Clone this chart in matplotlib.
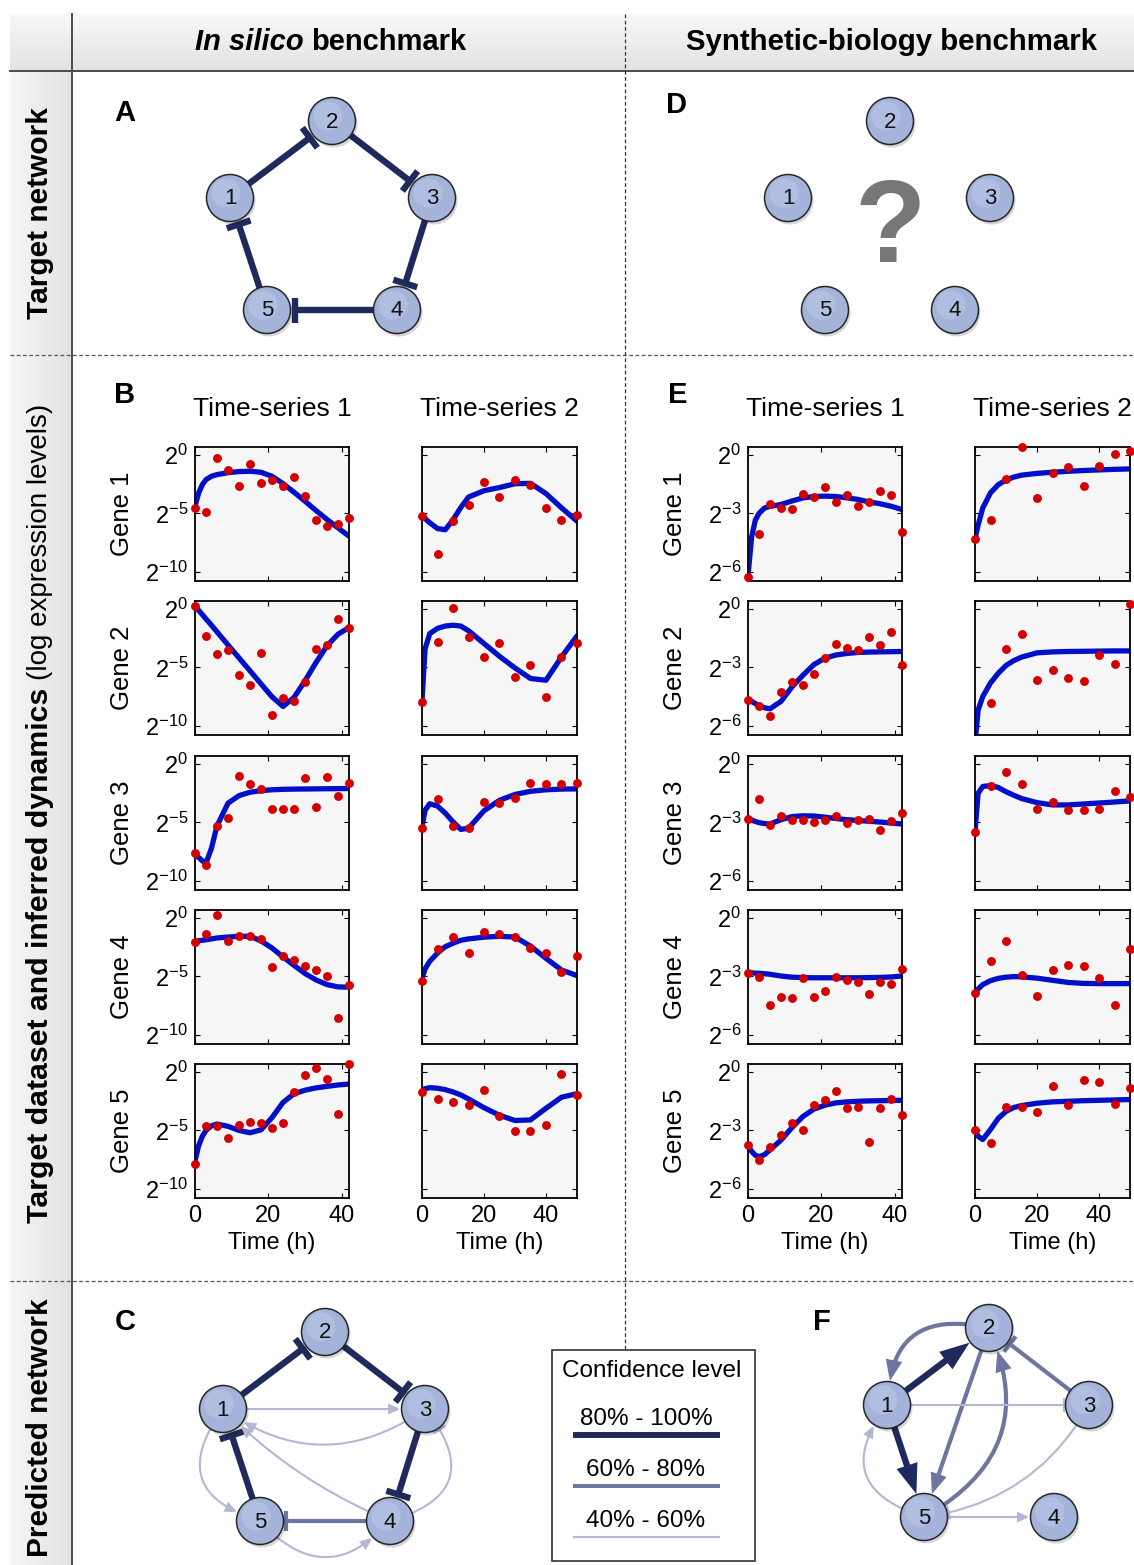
import numpy as np
import matplotlib
matplotlib.use("Agg")
import matplotlib.pyplot as plt
from matplotlib.patches import Circle, Rectangle, FancyArrowPatch, ArrowStyle

plt.rcParams['font.family'] = ['Liberation Sans', 'DejaVu Sans']
plt.rcParams['mathtext.fontset'] = 'custom'
plt.rcParams['mathtext.rm'] = 'Liberation Sans'
plt.rcParams['mathtext.it'] = 'Liberation Sans:italic'
plt.rcParams['mathtext.bf'] = 'Liberation Sans:bold'

W, H = 1134, 1565

# ---------------- data (log2 expression) ----------------
genes = ["Gene 1", "Gene 2", "Gene 3", "Gene 4", "Gene 5"]
t_obs_1 = [0, 3, 6, 9, 12, 15, 18, 21, 24, 27, 30, 33, 36, 39, 42]
t_obs_2 = [0, 5, 10, 15, 20, 25, 30, 35, 40, 45, 50]
t_fit_1 = [0, 1, 2, 3, 4.5, 6, 9, 12, 15, 18, 21, 24, 27, 30, 33, 36, 39, 42]
t_fit_2 = [0, 1, 2.5, 5, 7.5, 10, 12.5, 15, 20, 25, 30, 35, 40, 45, 50]

insilico_obs_1 = [
    [-4.52, -4.89, -0.24, -1.30, -2.67, -0.76, -2.38, -2.12, -2.64, -1.84, -3.52, -5.55, -6.04, -5.89, -5.38],
    [0.27, -2.30, -3.87, -3.52, -5.66, -6.52, -3.72, -9.09, -7.60, -7.92, -6.23, -3.38, -3.07, -0.87, -1.58],
    [-7.66, -8.64, -5.32, -4.64, -1.05, -1.73, -2.12, -3.81, -3.81, -3.81, -1.20, -3.69, -1.14, -2.71, -1.61],
    [-2.03, -1.32, 0.26, -1.94, -1.52, -1.52, -1.79, -4.22, -3.27, -3.63, -4.10, -4.43, -4.96, -8.58, -5.73],
    [-7.87, -4.61, -4.61, -5.61, -4.52, -4.28, -4.37, -4.75, -4.37, -1.70, -0.28, 0.34, -0.60, -3.63, 0.70],
]
insilico_fit_1 = [
    [-4.38, -3.24, -2.53, -2.10, -1.81, -1.67, -1.50, -1.41, -1.38, -1.47, -1.81, -2.44, -3.18, -3.95, -4.75, -5.52, -6.24, -6.95],
    [0.27, -0.10, -0.47, -0.84, -1.38, -1.95, -3.07, -4.18, -5.29, -6.41, -7.52, -8.35, -7.58, -6.15, -4.58, -3.15, -2.15, -1.58],
    [-7.75, -8.00, -8.30, -8.49, -7.20, -5.30, -3.35, -2.70, -2.41, -2.27, -2.20, -2.16, -2.14, -2.13, -2.12, -2.11, -2.10, -2.09],
    [-1.97, -1.94, -1.90, -1.86, -1.78, -1.70, -1.62, -1.56, -1.56, -1.95, -2.56, -3.33, -4.05, -4.75, -5.30, -5.70, -5.90, -5.92],
    [-7.63, -6.30, -5.50, -5.00, -4.60, -4.45, -4.65, -5.00, -5.20, -4.95, -3.90, -2.60, -1.85, -1.55, -1.35, -1.22, -1.10, -1.02],
]
insilico_obs_2 = [
    [-5.24, -8.46, -5.66, -4.27, -2.33, -3.61, -2.10, -2.53, -4.52, -5.55, -5.12],
    [-7.95, -2.81, 0.10, -2.35, -4.07, -2.92, -5.84, -4.81, -7.58, -4.07, -2.92],
    [-5.44, -2.95, -5.32, -5.52, -3.24, -3.30, -2.89, -1.61, -1.70, -1.67, -1.61],
    [-5.38, -2.65, -1.61, -2.95, -1.17, -1.37, -1.61, -2.59, -2.95, -4.66, -3.24],
    [-1.70, -2.29, -2.53, -2.80, -1.55, -3.78, -5.02, -5.02, -4.52, -0.16, -2.00],
]
insilico_fit_2 = [
    [-5.24, -5.45, -5.80, -6.30, -6.40, -5.55, -4.50, -3.60, -3.05, -2.78, -2.45, -2.42, -3.30, -4.52, -5.66],
    [-7.86, -3.40, -2.10, -1.65, -1.45, -1.38, -1.45, -1.85, -2.95, -4.05, -5.05, -5.95, -6.10, -4.10, -2.30],
    [-5.38, -3.95, -3.40, -3.60, -4.20, -4.95, -5.60, -5.50, -4.00, -3.10, -2.60, -2.33, -2.20, -2.14, -2.12],
    [-5.17, -4.35, -3.70, -3.00, -2.45, -2.15, -1.90, -1.78, -1.63, -1.56, -1.62, -2.40, -3.45, -4.45, -4.93],
    [-1.55, -1.42, -1.33, -1.38, -1.50, -1.70, -1.95, -2.30, -3.05, -3.70, -4.15, -4.10, -3.10, -2.15, -1.85],
]
synbio_obs_1 = [
    [-6.26, -4.05, -2.49, -2.71, -2.76, -2.01, -2.17, -1.63, -2.39, -2.06, -2.61, -2.42, -1.82, -2.05, -3.96],
    [-4.68, -5.01, -5.49, -4.29, -3.74, -3.91, -3.36, -2.54, -1.81, -1.98, -2.10, -1.41, -1.84, -1.16, -2.87],
    [-2.83, -1.80, -3.12, -2.66, -2.85, -2.89, -2.99, -2.89, -2.66, -3.01, -2.90, -2.83, -3.37, -2.94, -2.53],
    [-2.83, -3.01, -4.47, -4.08, -4.11, -3.10, -4.08, -3.76, -3.05, -3.19, -3.30, -3.88, -3.28, -3.40, -2.64],
    [-3.74, -4.54, -3.86, -3.24, -2.62, -2.98, -1.70, -1.41, -0.97, -1.82, -1.78, -3.60, -1.86, -1.38, -2.23],
]
synbio_fit_1 = [
    [-6.22, -4.20, -3.35, -3.00, -2.72, -2.64, -2.54, -2.36, -2.20, -2.13, -2.11, -2.13, -2.20, -2.28, -2.41, -2.50, -2.63, -2.80],
    [-4.63, -4.75, -4.86, -4.97, -5.08, -5.13, -4.75, -4.00, -3.40, -2.85, -2.52, -2.36, -2.28, -2.23, -2.21, -2.20, -2.19, -2.18],
    [-2.83, -2.88, -2.95, -3.01, -3.06, -3.08, -2.86, -2.70, -2.66, -2.67, -2.73, -2.80, -2.86, -2.90, -2.94, -2.98, -3.03, -3.08],
    [-2.82, -2.82, -2.83, -2.84, -2.86, -2.89, -2.98, -3.04, -3.06, -3.07, -3.07, -3.07, -3.07, -3.07, -3.06, -3.05, -3.03, -2.98],
    [-3.78, -4.08, -4.28, -4.35, -4.25, -4.00, -3.50, -2.85, -2.28, -1.90, -1.70, -1.58, -1.53, -1.50, -1.48, -1.47, -1.46, -1.45],
]
synbio_obs_2 = [
    [-4.31, -3.36, -1.21, 0.42, -2.20, -0.92, -0.61, -1.58, -0.56, 0.06, 0.20],
    [np.nan, -4.81, -2.03, -1.26, -3.64, -3.12, -3.55, -3.72, -2.34, -2.80, 0.28],
    [-3.49, -1.14, -0.40, -1.00, -2.30, -1.94, -2.35, -2.35, -2.30, -1.36, -1.71],
    [-3.86, -2.21, -1.20, -2.92, -4.03, -2.67, -2.39, -2.46, -3.10, -4.47, -1.57],
    [-2.98, -3.63, -1.78, -1.77, -2.05, -0.70, -1.70, -0.40, -0.49, -1.62, -0.84],
]
synbio_fit_2 = [
    [-4.31, -3.60, -2.72, -1.94, -1.52, -1.28, -1.13, -1.03, -0.94, -0.88, -0.83, -0.79, -0.76, -0.73, -0.71],
    [-6.90, -5.20, -4.50, -3.80, -3.30, -2.90, -2.65, -2.47, -2.25, -2.20, -2.18, -2.17, -2.16, -2.15, -2.15],
    [-3.49, -1.50, -1.15, -1.10, -1.20, -1.42, -1.60, -1.77, -1.98, -2.10, -2.10, -2.05, -2.00, -1.95, -1.89],
    [-3.86, -3.65, -3.42, -3.22, -3.10, -3.04, -3.01, -3.02, -3.09, -3.20, -3.31, -3.36, -3.37, -3.37, -3.37],
    [-2.98, -3.30, -3.47, -2.95, -2.38, -2.02, -1.82, -1.72, -1.60, -1.53, -1.50, -1.47, -1.45, -1.43, -1.41],
]

# networks: (source, target, kind, confidence level 0=80-100%, 1=60-80%, 2=40-60%)
target_edges = [(1, 2, 'inh', 0), (2, 3, 'inh', 0), (3, 4, 'inh', 0), (4, 5, 'inh', 0), (5, 1, 'inh', 0)]
pred_insilico = [(1, 2, 'inh', 0), (2, 3, 'inh', 0), (3, 4, 'inh', 0), (5, 1, 'inh', 0), (4, 5, 'inh', 1),
                 (1, 3, 'act', 2), (3, 1, 'act', 2), (4, 1, 'act', 2), (1, 5, 'act', 2), (5, 4, 'act', 2),
                 (4, 3, 'inh', 2)]
pred_synbio = [(1, 2, 'act', 0), (1, 5, 'act', 0), (2, 1, 'act', 1), (2, 5, 'act', 1), (5, 2, 'act', 1),
               (3, 2, 'inh', 1), (1, 3, 'inh', 2), (5, 1, 'act', 2), (3, 5, 'inh', 2), (5, 4, 'act', 2)]
conf_labels = ["80% - 100%", "60% - 80%", "40% - 60%"]

# ---------------- styles / layout ----------------
LEVEL_COLOR = ['#1f2a5c', '#6d76a0', '#b3b7d4']
LEVEL_LW = [4.6, 3.0, 1.5]
bend_C = {(3, 1): -0.35, (4, 1): -0.1, (1, 5): 0.7, (5, 4): 0.55, (4, 3): 0.75}
bend_F = {(2, 1): 0.6, (5, 2): 0.45, (5, 1): -0.7, (3, 5): -0.25}
node_offsets = {1: (-101, 0), 2: (1, -77), 3: (101, 0), 4: (66, 112), 5: (-64, 112)}
NODE_R = 23.5

fig = plt.figure(figsize=(W / 100, H / 100), dpi=100)
bg = fig.add_axes([0, 0, 1, 1])
bg.axis('off')

# header and row-label bands
hdr = np.linspace(0.975, 0.885, 60)[:, None, None] * np.ones((1, 2, 3))
bg.imshow(hdr, extent=(10, W, 71, 14), aspect='auto', interpolation='bilinear', zorder=0)
side = np.linspace(0.965, 0.885, 60)[None, :, None] * np.ones((2, 1, 3))
bg.imshow(side, extent=(10, 72, H, 71), aspect='auto', interpolation='bilinear', zorder=0)
bg.set_xlim(0, W)
bg.set_ylim(H, 0)

bg.plot([10, W], [71, 71], color='#4a4a4a', lw=1.4, zorder=1)
bg.plot([72, 72], [14, H], color='#4a4a4a', lw=1.4, zorder=1)
for yy in (355, 1281):
    bg.plot([10, W], [yy, yy], color='#555555', lw=0.9, ls=(0, (3, 2)), zorder=1)
bg.plot([625, 625], [14, 1350], color='#333333', lw=0.9, ls=(0, (3, 2)), zorder=1)

bg.text(304, 42, "In silico", fontsize=21, fontweight='bold', fontstyle='italic', ha='right', va='center')
bg.text(311, 42, "benchmark", fontsize=21, fontweight='bold', ha='left', va='center')
bg.text(891, 42, "Synthetic-biology benchmark", fontsize=21.2, fontweight='bold', ha='center', va='center')

bg.text(40, 213, "Target network", fontsize=21.5, fontweight='bold', rotation=90, ha='center', va='center')
bg.text(40, 1428, "Predicted network", fontsize=21.5, fontweight='bold', rotation=90, ha='center', va='center')
bg.text(40, 1223, "Target dataset and inferred dynamics", fontsize=21.8, fontweight='bold', rotation=90,
        rotation_mode='anchor', ha='left', va='center')
bg.text(40, 404, "(log expression levels)", fontsize=20, rotation=90,
        rotation_mode='anchor', ha='right', va='center')

for lab, (x, y) in zip("ABCDEF", [(125, 113), (125, 395), (125, 1322), (677, 105), (678, 395), (822, 1322)]):
    bg.text(x, y, lab, fontsize=21, fontweight='bold', ha='center', va='center')


# ---------------- networks ----------------
def layout(cx, cy):
    return {n: (cx + dx, cy + dy) for n, (dx, dy) in node_offsets.items()}


def draw_nodes(pos):
    for n, (x, y) in pos.items():
        bg.add_patch(Circle((x + 2, y + 3), NODE_R, fc='black', alpha=0.16, ec='none', zorder=4))
        bg.add_patch(Circle((x, y), NODE_R, fc='#a3b3da', ec='#262626', lw=1.1, zorder=5))
        bg.add_patch(Circle((x - 4, y - 5), NODE_R * 0.62, fc='#c2cdea', alpha=0.45, ec='none', zorder=5))
        bg.text(x, y + 1, str(n), fontsize=16, ha='center', va='center', color='#111111', zorder=6)


def draw_edges(pos, edges, bends):
    for s, d, kind, lev in edges:
        lw = LEVEL_LW[lev]
        if kind == 'act':
            hl = [12.5, 9.5, 6.5][lev]
            hw = [4.6, 3.8, 2.8][lev]
            style = ArrowStyle('-|>', head_length=hl, head_width=hw)
            shrink_b = 17.5
        else:
            style = ArrowStyle('-[', widthB=[9.0, 7.0, 5.0][lev], lengthB=0)
            shrink_b = [20.0, 19.0, 18.0][lev]
        arr = FancyArrowPatch(pos[s], pos[d], arrowstyle=style, mutation_scale=1,
                              connectionstyle=f"arc3,rad={bends.get((s, d), 0.0)}",
                              shrinkA=16.5, shrinkB=shrink_b, color=LEVEL_COLOR[lev],
                              lw=lw, capstyle='butt', joinstyle='miter', zorder=3)
        bg.add_patch(arr)


posA = layout(331, 198)
draw_edges(posA, target_edges, {})
draw_nodes(posA)

posD = layout(889, 198)
draw_nodes(posD)
bg.text(890, 232, "?", fontsize=84, fontweight='bold', color='#777777', ha='center', va='center', zorder=2)

posC = layout(324, 1409)
draw_edges(posC, pred_insilico, bend_C)
draw_nodes(posC)

posF = layout(988, 1405)
draw_edges(posF, pred_synbio, bend_F)
draw_nodes(posF)

# legend box
bg.add_patch(Rectangle((552, 1350), 203, 211, fc='white', ec='#333333', lw=1.2, zorder=2))
bg.text(652, 1371, "Confidence level", fontsize=17.5, ha='center', va='center', zorder=3)
for i, lab in enumerate(conf_labels):
    yy = 1435 + 51 * i
    bg.text(646, yy - 16, lab, fontsize=17.5, ha='center', va='center', zorder=3)
    bg.plot([573, 720], [yy, yy], color=LEVEL_COLOR[i], lw=[4.3, 2.9, 1.5][i],
            solid_capstyle='butt', zorder=3)

# ---------------- time-series panels ----------------
col_x = [(195, 349), (422, 577), (748, 902), (975, 1130)]
row_top = [447, 601, 756, 910, 1064]
ROW_H = 134

panels = [
    (0, t_obs_1, insilico_obs_1, t_fit_1, insilico_fit_1, 42, 'B'),
    (1, t_obs_2, insilico_obs_2, t_fit_2, insilico_fit_2, 50, 'B'),
    (2, t_obs_1, synbio_obs_1, t_fit_1, synbio_fit_1, 42, 'E'),
    (3, t_obs_2, synbio_obs_2, t_fit_2, synbio_fit_2, 50, 'E'),
]
ylims = {'B': (-10.8, 0.7), 'E': (-6.48, 0.42)}
yticks = {'B': [-10, -5, 0], 'E': [-6, -3, 0]}
ylabels = {'B': ['$2^{-10}$', '$2^{-5}$', '$2^{0}$'], 'E': ['$2^{-6}$', '$2^{-3}$', '$2^{0}$']}

for col, t_obs, obs, t_fit, fit, tmax, grp in panels:
    x0, x1 = col_x[col]
    for r in range(5):
        y0 = row_top[r]
        ax = fig.add_axes([x0 / W, 1 - (y0 + ROW_H) / H, (x1 - x0) / W, ROW_H / H])
        ax.set_facecolor('#f6f6f6')
        ax.plot(t_fit, fit[r], color='#0010c8', lw=3.8, solid_capstyle='round',
                solid_joinstyle='round', zorder=2)
        ax.plot(t_obs, obs[r], 'o', color='#d20000', ms=6.4, mec='none', zorder=3, clip_on=False)
        ax.set_xlim(0, tmax)
        ax.set_ylim(*ylims[grp])
        ax.set_xticks([0, 20, 40])
        ax.set_yticks(yticks[grp])
        ax.tick_params(direction='in', length=3.5, width=0.8, top=True, right=True,
                       labelsize=17, pad=5)
        for sp in ax.spines.values():
            sp.set_linewidth(1.3)
        if col in (0, 2):
            ax.set_yticklabels(ylabels[grp])
            ax.set_ylabel(genes[r], fontsize=18.5)
            ax.yaxis.set_label_coords(-61 / (x1 - x0), 0.5)
        else:
            ax.set_yticklabels([])
        if r == 4:
            ax.set_xlabel("Time (h)", fontsize=17, labelpad=4)
        else:
            ax.set_xticklabels([])
        if r == 0:
            ax.set_title("Time-series %d" % (col % 2 + 1), fontsize=19, pad=22)

fig.savefig("out.png", dpi=100)
